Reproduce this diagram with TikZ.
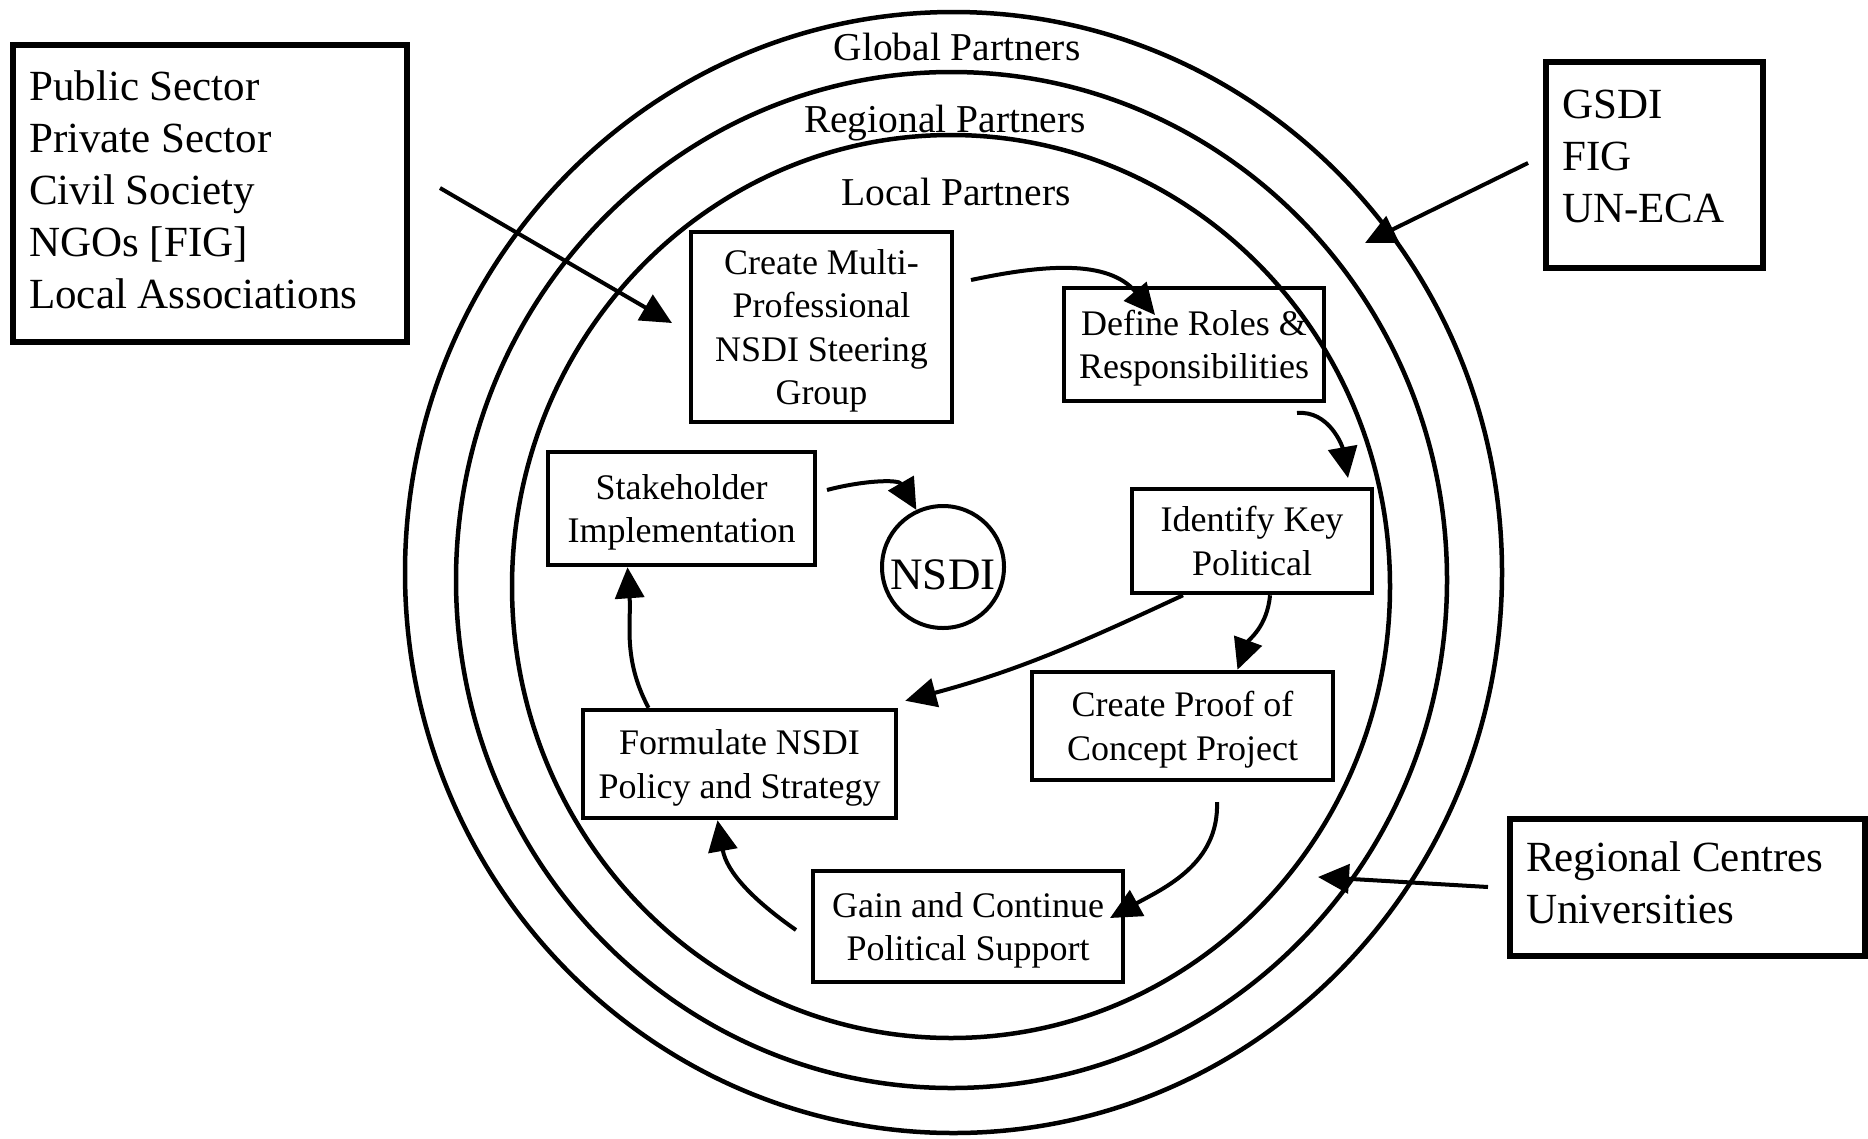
\documentclass[tikz,border=0pt]{standalone}
\usepackage{fontspec}
\setmainfont{Liberation Serif}
\usetikzlibrary{arrows.meta}
\begin{document}
\begin{tikzpicture}[x=1pt,y=1pt,
  ring/.style={line width=4.5pt},
  obox/.style={draw, line width=5.5pt, inner sep=0pt},
  otext/.style={inner sep=0pt, anchor=base west, align=left, font=\fontsize{43}{52}\selectfont},
  ibox/.style={draw, line width=4.5pt, inner sep=0pt, align=center, font=\fontsize{36}{43.5}\selectfont,
    text depth=-2pt},
  lbl/.style={inner sep=0pt, anchor=base, font=\fontsize{39.5}{46}\selectfont},
  arr/.style={line width=4pt, -{Triangle[length=31pt,width=29pt]}}]
\useasboundingbox (0,0) rectangle (1868,-1138);

% rings
\draw[ring] (953.5,-572.5) ellipse [x radius=548.5pt, y radius=560.5pt];
\draw[ring] (951.5,-580) ellipse [x radius=495.5pt, y radius=508pt];
\draw[ring] (951,-586.5) ellipse [x radius=439pt, y radius=451.5pt];

% ring labels
\node[lbl] (glob) at (957,-60) {Global Partners};
\node[lbl] (regp) at (945,-132) {Regional Partners};
\node[lbl] (locp) at (956,-205) {Local Partners};

% outer boxes
\node[obox, minimum width=394pt, minimum height=297pt] (pubbox) at (210,-193.5) {};
\node[otext] (pubtext) at (29,-308) {Public Sector\\Private Sector\\Civil Society\\NGOs [FIG]\\Local Associations};
\node[obox, minimum width=217pt, minimum height=206pt] (gsdibox) at (1654.5,-165) {};
\node[otext] (gsditext) at (1562,-222) {GSDI\\FIG\\UN-ECA};
\node[obox, minimum width=355pt, minimum height=137pt] (regbox) at (1687.5,-887.5) {};
\node[otext] (regtext) at (1526,-923) {Regional Centres\\Universities};

% inner boxes
\node[ibox, minimum width=261pt, minimum height=190pt] (create) at (821.5,-327) {Create Multi-\\Professional\\NSDI Steering\\Group};
\node[ibox, minimum width=260pt, minimum height=113pt] (define) at (1194,-344.5) {Define Roles \&\\Responsibilities};
\node[ibox, minimum width=240pt, minimum height=104pt] (identify) at (1252,-541) {Identify Key\\Political};
\node[ibox, minimum width=301pt, minimum height=108pt] (proof) at (1182.5,-726) {Create Proof of\\Concept Project};
\node[ibox, minimum width=310pt, minimum height=111pt] (gain) at (968,-926.5) {Gain and Continue\\Political Support};
\node[ibox, minimum width=313pt, minimum height=108pt] (formulate) at (739.5,-764) {Formulate NSDI\\Policy and Strategy};
\node[ibox, minimum width=267pt, minimum height=113pt] (stake) at (681.5,-508.5) {Stakeholder\\Implementation};
\node[draw, circle, line width=4pt, minimum size=122pt, inner sep=0pt, font=\fontsize{45}{50}\selectfont] (nsdi) at (943,-567) {\rule{0pt}{46pt}NSDI};

% outer arrows
\coordinate (pubS) at (440,-188); \coordinate (pubT) at (672,-323);
\draw[arr] (pubS) -- (pubT);
\coordinate (gsdiS) at (1528,-163); \coordinate (gsdiT) at (1365,-243);
\draw[arr] (gsdiS) -- (gsdiT);
\coordinate (regS) at (1488,-887); \coordinate (regT) at (1318,-877);
\draw[arr] (regS) -- (regT);

% cycle arrows
\coordinate (a1s) at (971,-280); \coordinate (a1t) at (1155,-315);
\draw[arr] (a1s) to[out=12,in=130] (a1t);
\coordinate (a2s) at (1297,-413); \coordinate (a2t) at (1348,-478);
\draw[arr] (a2s) to[out=5,in=100] (a2t);
\draw[arr] ([xshift=18pt]identify.south) to[out=-95,in=70] ([xshift=55pt]proof.north);
\draw[arr] ([xshift=-69pt]identify.south) to[out=-155,in=15] ([shift={(7pt,7pt)}]formulate.north east);
\coordinate (a5s) at (1217,-802); \coordinate (a5t) at (1110,-918);
\draw[arr] (a5s) to[out=-88,in=29] (a5t);
\coordinate (a6s) at (796,-930);
\draw[arr] (a6s) to[out=145,in=-80] ([xshift=-22pt]formulate.south);
\draw[arr] ([xshift=-91pt]formulate.north) to[out=118,in=-86] ([xshift=-54pt]stake.south);
\coordinate (a8s) at (827,-490);
\draw[arr] (a8s) to[out=15,in=120] (nsdi.115);
\end{tikzpicture}
\end{document}
